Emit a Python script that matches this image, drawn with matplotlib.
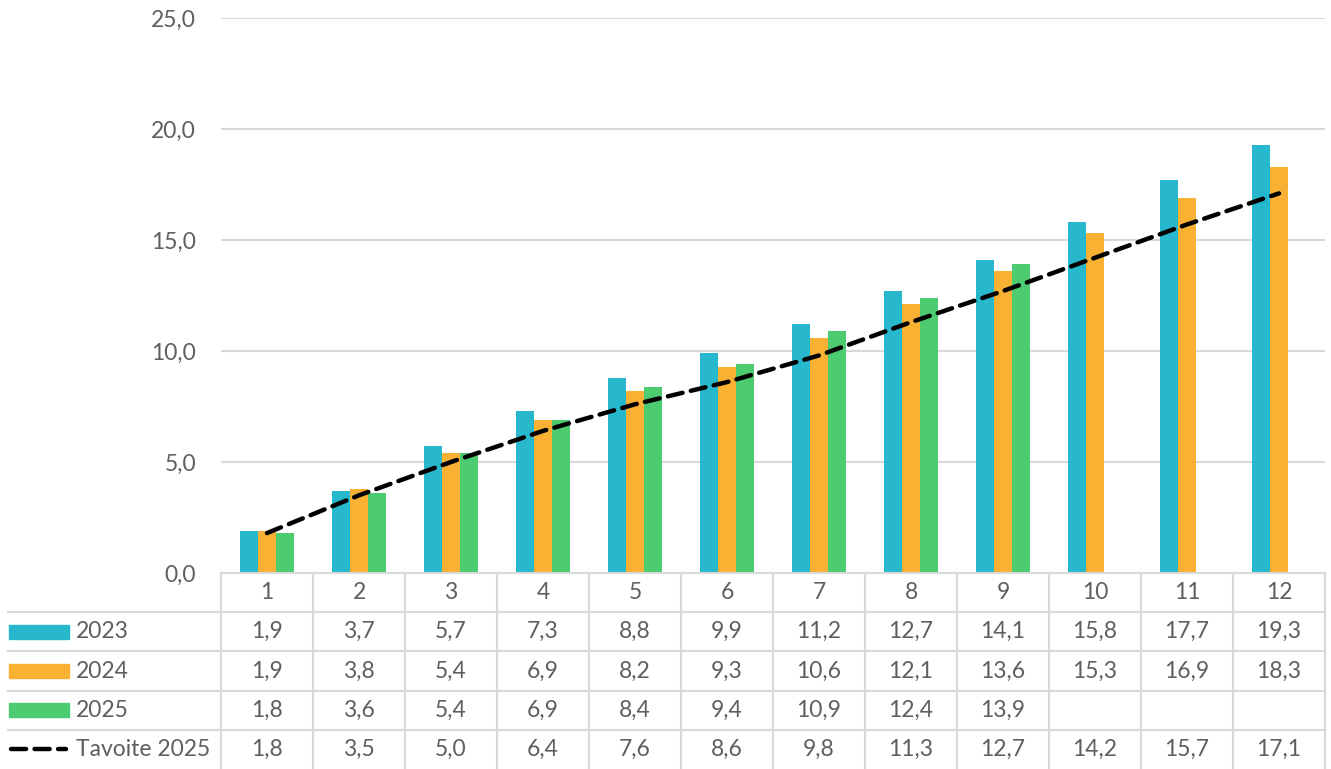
import matplotlib
matplotlib.use('Agg')
import matplotlib.pyplot as plt
import numpy as np

plt.rcParams['font.family'] = ['Lato', 'DejaVu Sans']

months = [1, 2, 3, 4, 5, 6, 7, 8, 9, 10, 11, 12]
v2023 = [1.9, 3.7, 5.7, 7.3, 8.8, 9.9, 11.2, 12.7, 14.1, 15.8, 17.7, 19.3]
v2024 = [1.9, 3.8, 5.4, 6.9, 8.2, 9.3, 10.6, 12.1, 13.6, 15.3, 16.9, 18.3]
v2025 = [1.8, 3.6, 5.4, 6.9, 8.4, 9.4, 10.9, 12.4, 13.9]
target2025 = [1.8, 3.5, 5.0, 6.4, 7.6, 8.6, 9.8, 11.3, 12.7, 14.2, 15.7, 17.1]
series_names = ['2023', '2024', '2025', 'Tavoite 2025']
yticks = [0, 5, 10, 15, 20, 25]

C_2023 = '#27B8CE'
C_2024 = '#F9B134'
C_2025 = '#4CCB70'
TXT = '#5f5f5f'
GRID = '#D9D9D9'
FS = 16.5

W, H = 1331, 769
fig = plt.figure(figsize=(W / 100, H / 100), dpi=100)

# plot area in pixels
px_left, px_right, px_top, px_bottom = 221, 1325, 18, 573
cat_px = (px_right - px_left) / len(months)

ax = fig.add_axes([px_left / W, 1 - px_bottom / H,
                   (px_right - px_left) / W, (px_bottom - px_top) / H])
x = np.array(months, dtype=float)
bw = 0.193
ax.bar(x - bw, v2023, bw, color=C_2023, zorder=2)
ax.bar(x, v2024, bw, color=C_2024, zorder=2)
ax.bar(x[:len(v2025)] + bw, v2025, bw, color=C_2025, zorder=2)
ax.plot(x, target2025, color='black', lw=3.2, dashes=(3.4, 1.9),
        dash_capstyle='round', zorder=3)

ax.set_xlim(0.5, len(months) + 0.5)
ax.set_ylim(0, 25)
ax.set_yticks(yticks)
ax.set_yticklabels([f'{t:.1f}'.replace('.', ',') for t in yticks])
ax.set_xticks([])
ax.tick_params(axis='y', length=0, pad=18, labelsize=FS, labelcolor=TXT)
for s in ax.spines.values():
    s.set_visible(False)
ax.grid(axis='y', color=GRID, lw=1.5, zorder=0)
ax.set_axisbelow(True)

# data table below the plot, same x scale as the bars
tab = fig.add_axes([0, 0, px_right / W, (H - px_bottom) / H])
tab.set_xlim(0.5 - px_left / cat_px, len(months) + 0.5)
tab.set_ylim(5, 0)
tab.axis('off')

def px2x(p):
    return 0.5 - (px_left - p) / cat_px

x_lab0 = px2x(8)
x_edge = 0.5
x_end = len(months) + 0.5

# grid of the table
tab.plot([x_edge, x_end], [0, 0], color=GRID, lw=1.5, clip_on=False)
for r in range(1, 5):
    tab.plot([x_lab0, x_end], [r, r], color=GRID, lw=1.5, clip_on=False)
for c in range(len(months) + 1):
    tab.plot([0.5 + c, 0.5 + c], [0, 5], color=GRID, lw=1.5, clip_on=False)

fmt = lambda v: f'{v:.1f}'.replace('.', ',')
rows = [v2023, v2024, v2025, target2025]
for i, m in enumerate(months):
    tab.text(m, 0.5, str(m), ha='center', va='center', fontsize=FS, color=TXT)
    for r, vals in enumerate(rows):
        if i < len(vals):
            tab.text(m, r + 1.5, fmt(vals[i]), ha='center', va='center',
                     fontsize=FS, color=TXT)

# legend keys in the first column
k0, k1 = px2x(9), px2x(69)
for r, (name, col) in enumerate(zip(series_names[:3], [C_2023, C_2024, C_2025])):
    tab.add_patch(plt.Rectangle((k0, r + 1.5 - 0.18), k1 - k0, 0.36,
                                color=col, clip_on=False))
    tab.text(px2x(76), r + 1.5, name, ha='left', va='center',
             fontsize=FS, color=TXT)
tab.plot([k0 + 0.02, px2x(66)], [4.5, 4.5], color='black', lw=3.2,
         dashes=(3.4, 1.9), dash_capstyle='round', clip_on=False)
tab.text(px2x(76), 4.5, series_names[3], ha='left', va='center',
         fontsize=FS, color=TXT)

fig.savefig('out.png', dpi=100, facecolor='white')
